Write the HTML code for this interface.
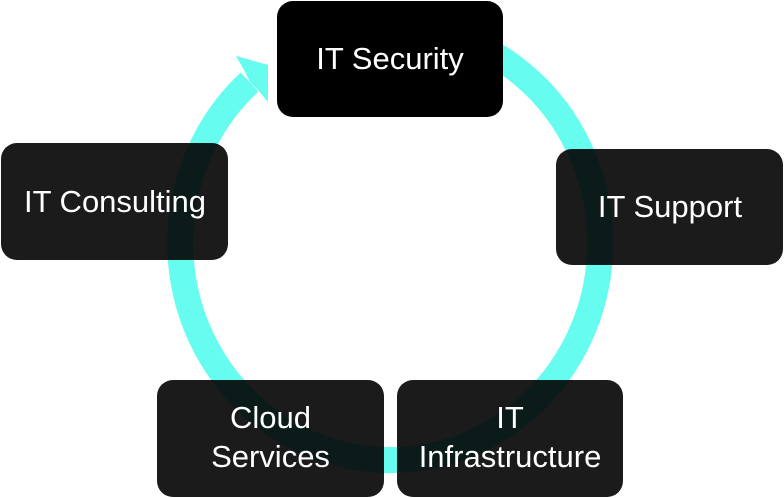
<!DOCTYPE html>
<html>
<head>
<meta charset="utf-8">
<style>
  html, body { margin: 0; padding: 0; background: #ffffff; }
  body { width: 784px; height: 498px; overflow: hidden; }
  svg { display: block; }
  text { font-family: "Liberation Sans", Arial, sans-serif; font-size: 31px; fill: #ffffff; }
</style>
</head>
<body>
<svg width="784" height="498" viewBox="0 0 784 498" xmlns="http://www.w3.org/2000/svg">
  <rect x="0" y="0" width="784" height="498" fill="#ffffff"/>

  <!-- cycle ring -->
  <path d="M 444.4 33.4 A 210 217 0 1 1 249.5 82" fill="none" stroke="#66fdf0" stroke-width="26" stroke-linecap="butt"/>
  <!-- arrowhead -->
  <polygon points="236,56 268,65 268,102 258,90 244,70" fill="#66fdf0"/>
  <polygon points="243,68 236,56 268,65 268,102 260,92 250,82" fill="#66fdf0"/>

  <!-- IT Security (opaque) -->
  <rect x="277" y="1" width="226" height="116" rx="16" ry="16" fill="#000000"/>
  <text x="390" y="69" text-anchor="middle">IT Security</text>

  <!-- IT Support -->
  <rect x="556" y="149" width="227" height="116" rx="16" ry="16" fill="#000000" fill-opacity="0.894"/>
  <text x="670" y="217" text-anchor="middle">IT Support</text>

  <!-- IT Consulting -->
  <rect x="1" y="143" width="227" height="117" rx="16" ry="16" fill="#000000" fill-opacity="0.894"/>
  <text x="115" y="212" text-anchor="middle">IT Consulting</text>

  <!-- Cloud Services -->
  <rect x="157" y="380" width="227" height="117" rx="16" ry="16" fill="#000000" fill-opacity="0.894"/>
  <text x="270.5" y="428" text-anchor="middle">Cloud</text>
  <text x="270.5" y="467" text-anchor="middle">Services</text>

  <!-- IT Infrastructure -->
  <rect x="397" y="380" width="226" height="117" rx="16" ry="16" fill="#000000" fill-opacity="0.894"/>
  <text x="510" y="428" text-anchor="middle">IT</text>
  <text x="510" y="467" text-anchor="middle">Infrastructure</text>
</svg>
</body>
</html>
